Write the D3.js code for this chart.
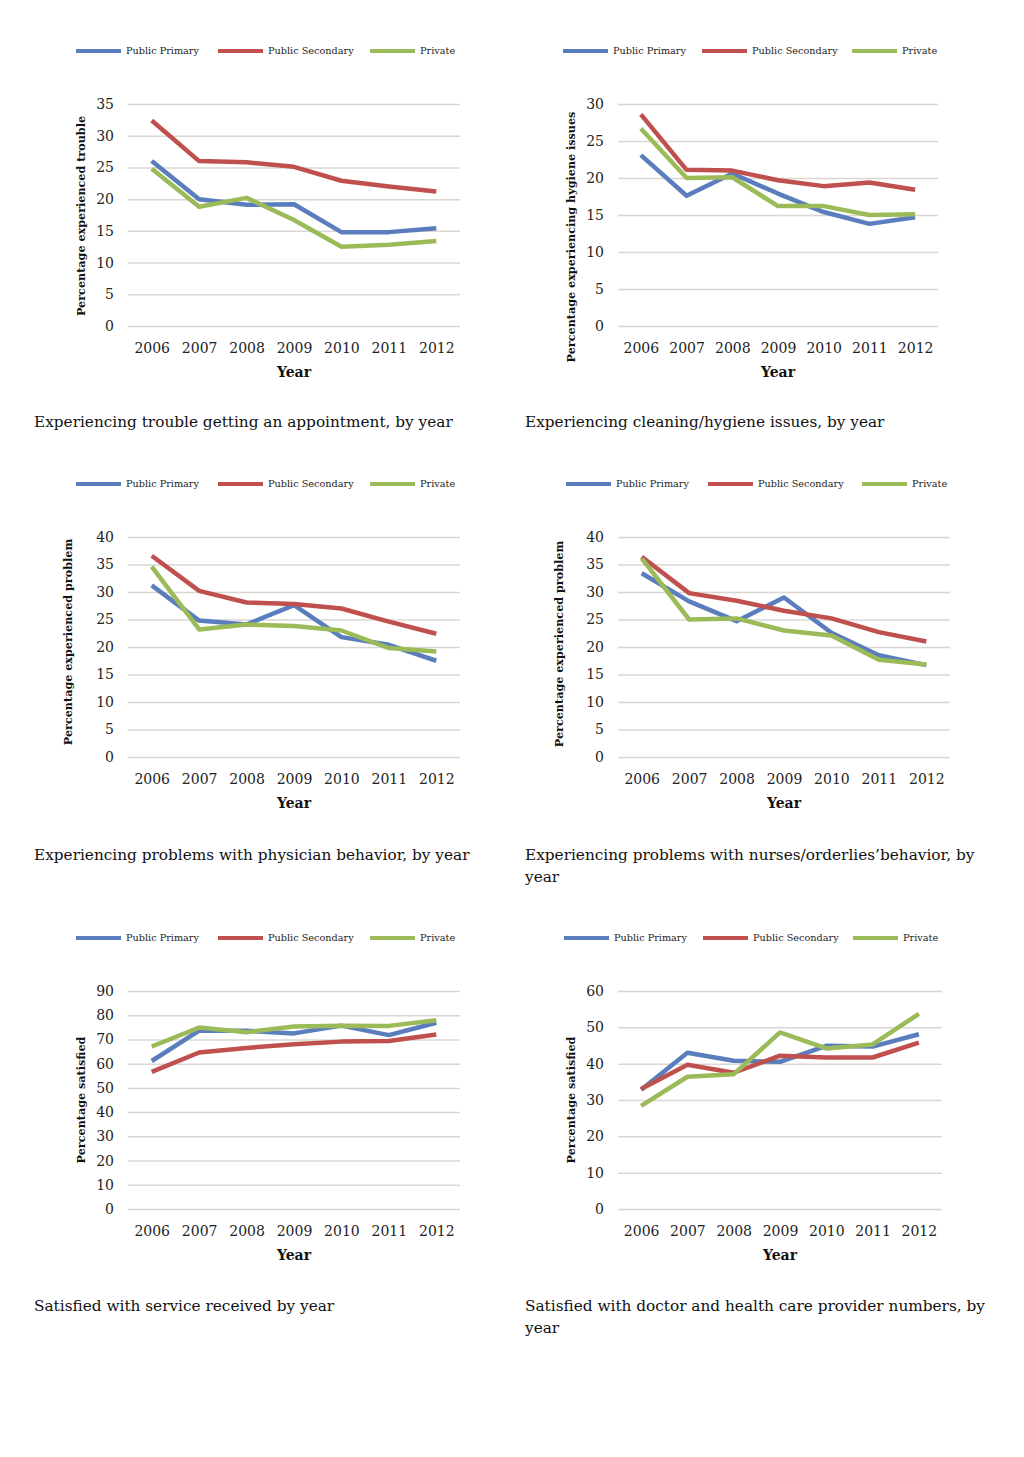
<!DOCTYPE html>
<html>
<head>
<meta charset="utf-8">
<script src="https://cdn.jsdelivr.net/npm/d3@7"></script>
<style>
  body { margin: 0; background: #fff; }
  svg { display: block; font-family: "DejaVu Serif", serif; }
</style>
</head>
<body>
<svg width="1024" height="1457"></svg>
<script>
"use strict";

const YEARS = ["2006", "2007", "2008", "2009", "2010", "2011", "2012"];
const SERIES = ["Public Primary", "Public Secondary", "Private"];
const COLORS = ["#5a7dbd", "#c0504d", "#9bbb59"];

// appointment trouble
const troublePrimary   = [26.0, 20.0, 19.1, 19.2, 14.8, 14.8, 15.4];
const troubleSecondary = [32.4, 26.0, 25.8, 25.1, 22.9, 22.0, 21.2];
const troublePrivate   = [24.8, 18.8, 20.2, 16.7, 12.5, 12.8, 13.4];

// cleaning / hygiene
const hygienePrimary   = [23.1, 17.6, 20.6, 17.9, 15.4, 13.8, 14.7];
const hygieneSecondary = [28.6, 21.1, 21.0, 19.7, 18.9, 19.4, 18.4];
const hygienePrivate   = [26.7, 20.0, 20.1, 16.2, 16.2, 15.0, 15.1];

// physician behaviour
const physicianPrimary   = [31.2, 24.8, 24.1, 27.6, 21.8, 20.4, 17.5];
const physicianSecondary = [36.6, 30.2, 28.1, 27.8, 27.0, 24.6, 22.4];
const physicianPrivate   = [34.6, 23.2, 24.1, 23.8, 23.0, 19.8, 19.2];

// nurses / orderlies behaviour
const nursesPrimary   = [33.4, 28.3, 24.7, 29.0, 22.6, 18.5, 16.7];
const nursesSecondary = [36.4, 29.8, 28.4, 26.6, 25.2, 22.7, 21.0];
const nursesPrivate   = [36.1, 25.0, 25.2, 23.0, 22.1, 17.7, 16.8];

// satisfied with service
const servicePrimary   = [61.1, 73.6, 73.6, 72.5, 75.7, 71.8, 76.9];
const serviceSecondary = [56.6, 64.6, 66.5, 68.0, 69.1, 69.4, 72.0];
const servicePrivate   = [67.1, 74.9, 73.0, 75.3, 75.7, 75.6, 77.9];

// satisfied with provider numbers
const providersPrimary   = [32.8, 43.0, 40.8, 40.5, 44.9, 44.7, 48.1];
const providersSecondary = [33.0, 39.7, 37.5, 42.2, 41.7, 41.7, 45.8];
const providersPrivate   = [28.4, 36.4, 37.1, 48.6, 44.2, 45.3, 53.7];

const panels = [
  { series: [troublePrimary, troubleSecondary, troublePrivate], max: 35, step: 5,
    yLabel: "Percentage experienced trouble",
    caption: ["Experiencing trouble getting an appointment, by year"],
    left: 128, right: 460, top: 104, bottom: 326, yLabelX: 82, yLabelY: 216,
    legendY: 51, legendX: [76, 218, 370], captionX: 34, captionY: 422 },
  { series: [hygienePrimary, hygieneSecondary, hygienePrivate], max: 30, step: 5,
    yLabel: "Percentage experiencing hygiene issues",
    caption: ["Experiencing cleaning/hygiene issues, by year"],
    left: 618, right: 938, top: 104, bottom: 326, yLabelX: 572, yLabelY: 237,
    legendY: 51, legendX: [563, 702, 852], captionX: 525, captionY: 422 },
  { series: [physicianPrimary, physicianSecondary, physicianPrivate], max: 40, step: 5,
    yLabel: "Percentage experienced problem",
    caption: ["Experiencing problems with physician behavior, by year"],
    left: 128, right: 460, top: 537, bottom: 757, yLabelX: 69, yLabelY: 642,
    legendY: 484, legendX: [76, 218, 370], captionX: 34, captionY: 855 },
  { series: [nursesPrimary, nursesSecondary, nursesPrivate], max: 40, step: 5,
    yLabel: "Percentage experienced problem",
    caption: ["Experiencing problems with nurses/orderlies\u2019behavior, by", "year"],
    left: 618, right: 950, top: 537, bottom: 757, yLabelX: 560, yLabelY: 644,
    legendY: 484, legendX: [566, 708, 862], captionX: 525, captionY: 855 },
  { series: [servicePrimary, serviceSecondary, servicePrivate], max: 90, step: 10,
    yLabel: "Percentage satisfied",
    caption: ["Satisfied with service received by year"],
    left: 128, right: 460, top: 991, bottom: 1209, yLabelX: 82, yLabelY: 1100,
    legendY: 938, legendX: [76, 218, 370], captionX: 34, captionY: 1306 },
  { series: [providersPrimary, providersSecondary, providersPrivate], max: 60, step: 10,
    yLabel: "Percentage satisfied",
    caption: ["Satisfied with doctor and health care provider numbers, by", "year"],
    left: 618, right: 942, top: 991, bottom: 1209, yLabelX: 572, yLabelY: 1100,
    legendY: 938, legendX: [564, 703, 853], captionX: 525, captionY: 1306 }
];

const svg = d3.select("svg");

panels.forEach(p => drawPanel(p));

function drawPanel(p) {
  const g = svg.append("g");

  const x = d3.scalePoint()
    .domain(YEARS)
    .range([p.left, p.right])
    .padding(0.5);

  const y = d3.scaleLinear()
    .domain([0, p.max])
    .range([p.bottom, p.top]);

  const ticks = d3.range(0, p.max + p.step / 2, p.step);

  // gridlines + tick labels via axisLeft
  const yAxis = g.append("g")
    .attr("transform", `translate(${p.left},0)`)
    .call(d3.axisLeft(y).tickValues(ticks).tickSize(-(p.right - p.left)).tickPadding(14));
  yAxis.select(".domain").remove();
  yAxis.selectAll(".tick line").attr("stroke", "#d9d7d4").attr("stroke-width", 1.5);
  yAxis.selectAll(".tick text")
    .attr("font-family", "DejaVu Serif")
    .attr("font-size", 14)
    .attr("fill", "#222");

  const xAxis = g.append("g")
    .attr("transform", `translate(0,${p.bottom})`)
    .call(d3.axisBottom(x).tickSize(0).tickPadding(17));
  xAxis.select(".domain").remove();
  xAxis.selectAll(".tick text")
    .attr("font-family", "DejaVu Serif")
    .attr("font-size", 14)
    .attr("fill", "#222");

  const line = d3.line()
    .x((d, i) => x(YEARS[i]))
    .y(d => y(d));

  g.selectAll("path.series")
    .data(p.series)
    .join("path")
    .attr("class", "series")
    .attr("d", line)
    .attr("fill", "none")
    .attr("stroke", (d, i) => COLORS[i])
    .attr("stroke-width", 4.5)
    .attr("stroke-linejoin", "round");

  // axis titles
  g.append("text")
    .attr("transform", `translate(${p.yLabelX},${p.yLabelY}) rotate(-90)`)
    .attr("text-anchor", "middle")
    .attr("dominant-baseline", "middle")
    .attr("font-size", 11.2)
    .attr("font-weight", "bold")
    .attr("fill", "#111")
    .text(p.yLabel);

  g.append("text")
    .attr("x", (p.left + p.right) / 2)
    .attr("y", p.bottom + 47)
    .attr("dominant-baseline", "middle")
    .attr("text-anchor", "middle")
    .attr("font-size", 14)
    .attr("font-weight", "bold")
    .attr("fill", "#111")
    .text("Year");

  // legend
  const leg = g.selectAll("g.legend")
    .data(SERIES)
    .join("g")
    .attr("class", "legend")
    .attr("transform", (d, i) => `translate(${p.legendX[i]},${p.legendY})`);
  leg.append("line")
    .attr("x1", 0).attr("x2", 45)
    .attr("stroke", (d, i) => COLORS[i])
    .attr("stroke-width", 4);
  leg.append("text")
    .attr("x", 50)
    .attr("dominant-baseline", "middle")
    .attr("font-size", 9.7)
    .attr("fill", "#222")
    .text(d => d);

  // caption
  g.append("text")
    .attr("x", p.captionX)
    .attr("y", p.captionY)
    .attr("font-size", 15.3)
    .attr("fill", "#111")
    .selectAll("tspan")
    .data(p.caption)
    .join("tspan")
    .attr("x", p.captionX)
    .attr("dy", (d, i) => i === 0 ? 5 : 22)
    .text(d => d);
}
</script>
</body>
</html>
